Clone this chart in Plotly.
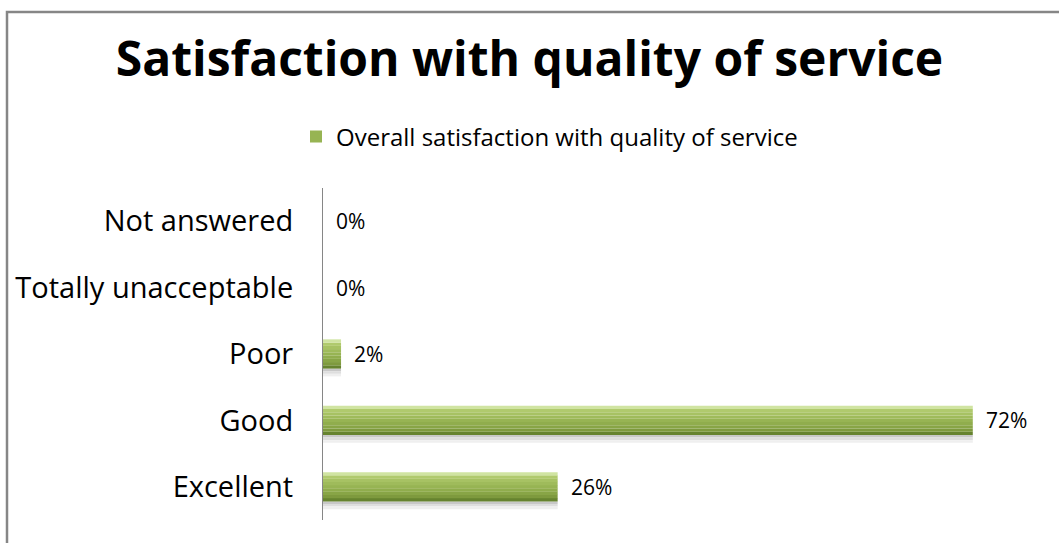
import plotly.graph_objects as go

# Survey responses, bottom-to-top order on the category axis
categories = ["Excellent", "Good", "Poor", "Totally unacceptable", "Not answered"]
values = [26, 72, 2, 0, 0]
series_name = "Overall satisfaction with quality of service"
title_text = "Satisfaction with quality of service"

FONT = "Open Sans"
W, H = 1059, 543
L, R, T, B = 323, 14, 188, 23
pw, ph = W - L - R, H - T - B

# Bar is built from thin horizontal bands (bottom to top) to give a shaded, bevelled face
BAR_W = 0.44
band_colors = ["#66832f", "#7e9a3e", "#88a546", "#90ad4d", "#97b453",
               "#9fbb5b", "#a7c263", "#b0ca6d", "#d0e4a2"]
band_w = BAR_W / len(band_colors)

fig = go.Figure()

# Soft drop shadow under each bar
for i, col in enumerate(["#c8c8c8", "#dedede", "#efefef"]):
    fig.add_trace(go.Bar(
        y=categories, x=values, orientation="h",
        width=band_w * 0.8, offset=-BAR_W / 2 - (i + 1) * band_w * 0.8,
        marker=dict(color=col, line=dict(width=0)),
        showlegend=False, hoverinfo="skip",
    ))

for i, col in enumerate(band_colors):
    fig.add_trace(go.Bar(
        y=categories, x=values, orientation="h",
        width=band_w * 1.02, offset=-BAR_W / 2 + i * band_w,
        marker=dict(color=col, line=dict(width=0)),
        name=series_name, showlegend=(i == 4), hoverinfo="skip",
    ))

# Value labels beside each bar
for c, v in zip(categories, values):
    fig.add_annotation(
        x=v, y=c, xref="x", yref="y", text=f"{v}%", showarrow=False,
        xanchor="left", xshift=11, font=dict(family=FONT, size=21, color="#000000"),
    )

# Outer chart border
fig.add_shape(
    type="rect", xref="paper", yref="paper",
    x0=(7 - L) / pw, x1=(W + 20 - L) / pw,
    y0=-40 / ph, y1=(H - B - 12) / ph,
    line=dict(color="#868686", width=2.5), fillcolor="rgba(0,0,0,0)", layer="below",
)

fig.update_layout(
    width=W, height=H,
    margin=dict(l=L, r=R, t=T, b=B),
    paper_bgcolor="white", plot_bgcolor="white",
    barmode="overlay",
    title=dict(
        text=f"<b>{title_text}</b>", x=0.5, xanchor="center", xref="container",
        y=(H - 59) / H, yanchor="middle", yref="container",
        font=dict(family=FONT, size=48, color="#000000"),
    ),
    legend=dict(
        orientation="h", x=296 / W, xanchor="left", xref="container",
        y=(H - 137) / H, yanchor="middle", yref="container",
        font=dict(family=FONT, size=24, color="#000000"),
        itemwidth=30,
    ),
    xaxis=dict(range=[0, 80], visible=False, fixedrange=True, automargin=False),
    yaxis=dict(
        categoryorder="array", categoryarray=categories,
        showline=True, linecolor="#868686", linewidth=1,
        showgrid=False, zeroline=False, ticks="",
        ticklabelstandoff=23, automargin=False,
        tickfont=dict(family=FONT, size=29, color="#000000"),
    ),
    showlegend=True,
)

fig.write_html("out.html")
